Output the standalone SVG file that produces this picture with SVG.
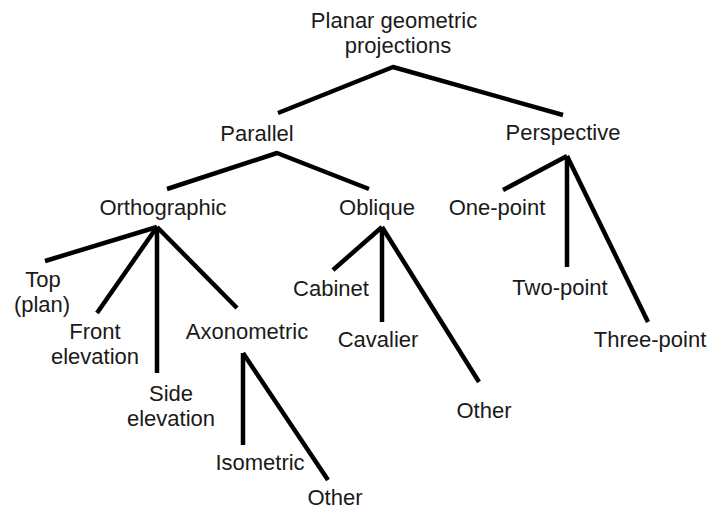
<svg xmlns="http://www.w3.org/2000/svg" width="716" height="510" viewBox="0 0 716 510">
<style>
text{font-family:"Liberation Sans",Arial,sans-serif;font-size:22px;fill:#1a1a1a;text-anchor:middle}
.c line,.c polyline{stroke:#000;stroke-width:4.5;fill:none;stroke-linecap:butt;stroke-linejoin:round}
</style>
<rect width="716" height="510" fill="#fff"/>
<g class="c" id="connectors">
<polyline points="278,113 393,67 563,115"/>
<polyline points="167,189 277,153 369,189"/>
<line x1="567" y1="156" x2="503" y2="190"/>
<line x1="567" y1="156" x2="567" y2="267"/>
<line x1="567" y1="156" x2="648" y2="322"/>
<line x1="157" y1="227" x2="45" y2="261"/>
<line x1="157" y1="227" x2="97" y2="313"/>
<line x1="157" y1="227" x2="157" y2="373"/>
<line x1="157" y1="227" x2="237" y2="308"/>
<line x1="243" y1="353" x2="243" y2="445"/>
<line x1="243" y1="353" x2="328" y2="480"/>
<line x1="382" y1="227" x2="333" y2="270"/>
<line x1="382" y1="227" x2="382" y2="322"/>
<line x1="382" y1="227" x2="479" y2="382"/>
</g>
<g id="root"><text x="394" y="28">Planar geometric</text><text x="398" y="53">projections</text></g>
<g id="parallel"><text x="257" y="141">Parallel</text></g>
<g id="perspective"><text x="563" y="140">Perspective</text></g>
<g id="orthographic"><text x="163" y="215">Orthographic</text></g>
<g id="oblique"><text x="377" y="215">Oblique</text></g>
<g id="onepoint"><text x="497" y="215">One-point</text></g>
<g id="twopoint"><text x="560" y="295">Two-point</text></g>
<g id="threepoint"><text x="650" y="347">Three-point</text></g>
<g id="top"><text x="43" y="287">Top</text><text x="42" y="312">(plan)</text></g>
<g id="front"><text x="95" y="339">Front</text><text x="95" y="364">elevation</text></g>
<g id="side"><text x="171" y="401">Side</text><text x="171" y="426">elevation</text></g>
<g id="axonometric"><text x="247" y="339">Axonometric</text></g>
<g id="isometric"><text x="260" y="470">Isometric</text></g>
<g id="other1"><text x="335" y="505">Other</text></g>
<g id="cabinet"><text x="331" y="296">Cabinet</text></g>
<g id="cavalier"><text x="378" y="347">Cavalier</text></g>
<g id="other2"><text x="484" y="418">Other</text></g>
</svg>
